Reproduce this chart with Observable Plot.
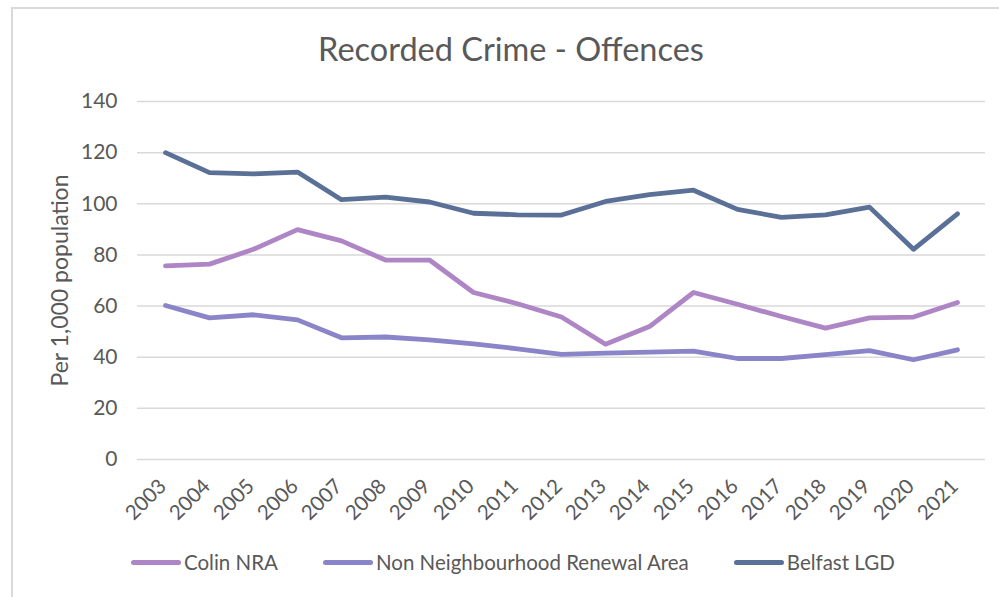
<!DOCTYPE html>
<html><head><meta charset="utf-8">
<script src="https://cdn.jsdelivr.net/npm/d3@7"></script>
<script src="https://cdn.jsdelivr.net/npm/@observablehq/plot@0.6"></script>
<style>
body{margin:0;background:#fff;}
#wrap{position:relative;width:999px;height:597px;overflow:hidden;font-family:Lato,sans-serif;color:#595959;background:#fff;}
#frame{position:absolute;left:11px;top:7px;width:1100px;height:700px;border:2px solid #d9d9d9;box-sizing:border-box;}
#title{position:absolute;left:0;top:29px;width:1022px;text-align:center;font-size:32.5px;line-height:40px;}
#chart{position:absolute;left:0;top:0;}
#legend{position:absolute;left:131px;top:550px;display:flex;gap:45px;font-size:20.5px;line-height:24px;white-space:nowrap;}
.item{display:flex;align-items:center;}
.sw{width:50px;height:5px;border-radius:3px;margin-right:3px;}
</style></head>
<body>
<div id="wrap">
  <div id="frame"></div>
  <div id="chart"></div>
  <div id="title">Recorded Crime - Offences</div>
  <div id="legend"></div>
</div>
<script>
const years = [2003,2004,2005,2006,2007,2008,2009,2010,2011,2012,2013,2014,2015,2016,2017,2018,2019,2020,2021];
const seriesNames = ["Colin NRA", "Non Neighbourhood Renewal Area", "Belfast LGD"];
const colinNRA = [75.7,76.4,82.2,89.9,85.5,78.0,78.0,65.3,60.9,55.7,45.1,52.0,65.3,60.7,55.9,51.4,55.4,55.7,61.4];
const nonNRA   = [60.2,55.4,56.6,54.6,47.6,47.9,46.8,45.2,43.3,41.1,41.6,42.0,42.4,39.5,39.5,41.0,42.6,39.0,42.9];
const belfastLGD = [120.0,112.2,111.7,112.4,101.6,102.6,100.7,96.3,95.7,95.6,100.9,103.6,105.3,97.8,94.7,95.7,98.7,82.2,96.1];
const yTicks = [0,20,40,60,80,100,120,140];
const yLabel = "Per 1,000 population";
const colors = ["#ae86c6", "#8a85c8", "#5b7097"];

const valuesBySeries = [colinNRA, nonNRA, belfastLGD];
const data = seriesNames.flatMap((s, i) => years.map((y, j) => ({series: s, year: y, value: valuesBySeries[i][j]})));

const chart = Plot.plot({
  width: 999, height: 597,
  marginTop: 101, marginBottom: 138, marginLeft: 137, marginRight: 14,
  style: {fontFamily: "Lato, sans-serif", background: "transparent", color: "#595959"},
  x: {type: "point", domain: years, padding: 0.5, axis: null},
  y: {domain: [0, 140], axis: null},
  color: {domain: seriesNames, range: colors},
  marks: [
    Plot.gridY(yTicks, {stroke: "#d9d9d9", strokeOpacity: 1, strokeWidth: 1.5}),
    Plot.text(yTicks, {y: d => d, text: d => String(d), frameAnchor: "left", dx: -20, textAnchor: "end", fontSize: 21, fill: "#595959"}),
    Plot.text([yLabel], {frameAnchor: "left", dx: -77, rotate: -90, textAnchor: "middle", text: d => d, fontSize: 23, fill: "#595959"}),
    Plot.text(years, {x: d => d, text: d => String(d), frameAnchor: "bottom", dy: 28, dx: 2, rotate: -45, textAnchor: "end", fontSize: 20.5, fill: "#595959"}),
    Plot.line(data, {x: "year", y: "value", z: "series", stroke: "series", strokeWidth: 4.8, strokeLinecap: "round", strokeLinejoin: "round"})
  ]
});
document.getElementById("chart").appendChild(chart);

const legend = document.getElementById("legend");
seriesNames.forEach((s, i) => {
  const it = document.createElement("div"); it.className = "item";
  const sw = document.createElement("span"); sw.className = "sw"; sw.style.background = colors[i];
  const tx = document.createElement("span"); tx.textContent = s;
  it.appendChild(sw); it.appendChild(tx); legend.appendChild(it);
});
</script>
</body></html>
